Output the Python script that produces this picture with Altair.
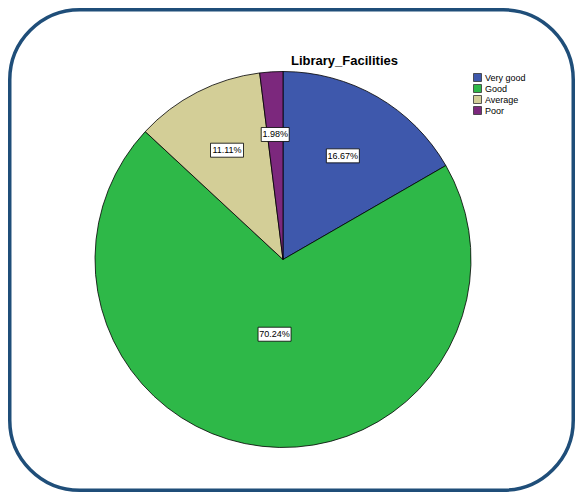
import math
import altair as alt
import pandas as pd

categories = ["Very good", "Good", "Average", "Poor"]
percents = [16.67, 70.24, 11.11, 1.98]
colors = ["#3E58AC", "#2EB848", "#D3CE97", "#7C287D"]
title_text = "Library_Facilities"

W, H = 567, 484
CX, CY = 275, 251.5
R = 188

rows = []
cum = 0.0
total = sum(percents)
for i, (c, p) in enumerate(zip(categories, percents)):
    a = p / total * 2 * math.pi
    mid = cum + a / 2
    cum += a
    rc = 2 * R * math.sin(a / 2) / (3 * a / 2)
    rc = max(rc, 0.4 * R)
    lx = CX + rc * math.sin(mid)
    ly = CY - rc * math.cos(mid)
    label = f"{p:.2f}%"
    bw = 5.0 * len(label) + 3
    bh = 14
    rows.append(dict(cat=c, pct=p, idx=i, label=label, lx=lx, ly=ly,
                     x1=lx - bw / 2, x2=lx + bw / 2, y1=ly - bh / 2, y2=ly + bh / 2))
df = pd.DataFrame(rows)

border = alt.Chart(pd.DataFrame({"a": [0]})).mark_rect(
    fillOpacity=0, stroke="#1F4E79", strokeWidth=3.5, cornerRadius=70
).encode(x=alt.value(1.75), x2=alt.value(W - 1.75), y=alt.value(1.75), y2=alt.value(H - 1.75))

pie = alt.Chart(df).mark_arc(outerRadius=R, stroke="black", strokeWidth=0.8).encode(
    theta=alt.Theta("pct:Q", stack=True),
    order=alt.Order("idx:Q"),
    color=alt.Color(
        "cat:N",
        scale=alt.Scale(domain=categories, range=colors),
        sort=categories,
        legend=alt.Legend(
            title=None, orient="none", legendX=465, legendY=65,
            symbolType="square", symbolSize=64, labelFont="Liberation Sans",
            labelFontSize=9, rowPadding=-2, symbolStrokeColor="#333333",
            symbolStrokeWidth=0.8, labelOffset=3, labelColor="black",
        ),
    ),
    x=alt.value(CX),
    y=alt.value(CY),
)

boxes = alt.Chart(df).mark_rect(fill="white", stroke="black", strokeWidth=0.8).encode(
    x=alt.X("x1:Q", scale=None, axis=None), x2="x2:Q",
    y=alt.Y("y1:Q", scale=None, axis=None), y2="y2:Q",
)

texts = alt.Chart(df).mark_text(font="Liberation Sans", fontSize=9, color="black").encode(
    x=alt.X("lx:Q", scale=None, axis=None),
    y=alt.Y("ly:Q", scale=None, axis=None),
    text="label:N",
)

title = alt.Chart(pd.DataFrame({"t": [title_text]})).mark_text(
    font="Liberation Sans", fontSize=13, fontWeight="bold", color="black"
).encode(x=alt.value(336.5), y=alt.value(53), text="t:N")

chart = alt.layer(border, pie, boxes, texts, title).properties(
    width=W, height=H, autosize=alt.AutoSizeParams(type="none"), padding=0
).configure_view(strokeWidth=0)

chart.save("out.html", embed_options={"renderer": "svg", "actions": False})
